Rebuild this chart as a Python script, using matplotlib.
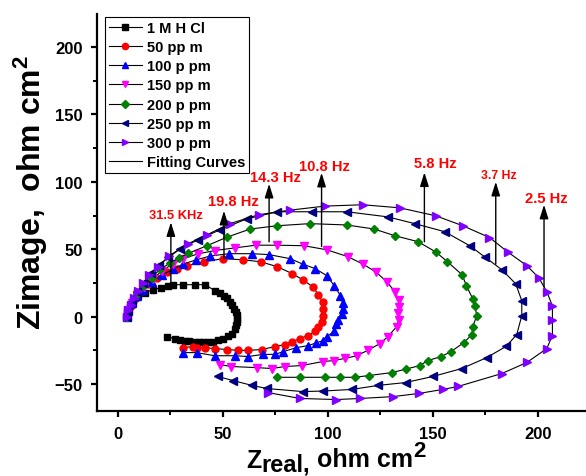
import matplotlib
matplotlib.use("Agg")
import matplotlib.pyplot as plt
from matplotlib.ticker import MultipleLocator
from matplotlib.lines import Line2D

plt.rcParams['font.family'] = ['Liberation Sans', 'DejaVu Sans']
plt.rcParams['font.weight'] = 'bold'
plt.rcParams['mathtext.fontset'] = 'custom'
plt.rcParams['mathtext.rm'] = 'Liberation Sans:bold'
plt.rcParams['mathtext.bf'] = 'Liberation Sans:bold'
plt.rcParams['mathtext.it'] = 'Liberation Sans:bold'

# ---------------- data ----------------
labels = ['1 M H Cl', '50 pp m', '100 p pm', '150 pp m', '200 p pm', '250 pp m', '300 p pm']

hcl_x = [4.0, 4.5, 5.5, 7.0, 9.5, 12.9, 16.7, 20.5, 23.8, 26.2, 31.0, 36.7, 41.4, 46.2, 48.5, 50.5, 52.0,
         53.3, 54.5, 55.5, 56.2, 56.7, 56.9, 56.7, 56.2, 55.7, 54.3, 52.5, 50.0, 47.5, 45.2, 42.8, 40.5,
         38.5, 36.7, 34.0, 31.9, 29.5, 27.1, 23.3]
hcl_y = [0.0, 4.0, 8.0, 12.0, 15.0, 17.8, 20.0, 21.5, 23.0, 23.7, 23.7, 23.7, 23.7, 19.3, 17.5, 15.6, 13.5,
         11.1, 8.5, 6.0, 3.5, 1.0, -1.5, -3.7, -6.3, -8.9, -12.6, -14.5, -16.3, -17.6, -18.5, -18.5, -18.5,
         -18.5, -18.5, -18.2, -17.8, -17.0, -16.3, -14.8]

p50_x = [4.3, 5.0, 6.5, 8.5, 11.0, 14.5, 18.5, 23.5, 28.0, 33.0, 41.0, 50.0, 59.5, 68.0, 76.0, 83.0, 88.0,
         93.0, 95.4, 97.5, 97.8, 97.6, 97.0, 95.4, 94.0, 90.5, 86.7, 83.0, 79.5, 74.8, 68.5, 62.0, 57.0,
         52.0, 46.2, 41.4, 37.6, 35.6, 31.0]
p50_y = [0.0, 4.0, 9.0, 14.0, 19.0, 24.0, 28.5, 33.0, 35.6, 37.8, 40.7, 43.0, 42.2, 40.7, 37.0, 31.9, 27.4,
         22.0, 16.3, 11.0, 5.9, 0.7, -4.0, -8.0, -11.0, -14.0, -16.3, -18.5, -20.7, -22.2, -24.4, -25.0, -25.0,
         -24.4, -23.7, -23.0, -23.0, -22.2, -23.0]

p100_x = [4.3, 5.0, 6.5, 9.0, 12.0, 16.0, 21.0, 26.0, 31.0, 37.0, 44.0, 53.0, 64.0, 72.0, 82.0, 88.0, 94.0,
          99.5, 103.0, 106.0, 107.0, 107.0, 106.5, 105.0, 104.0, 103.0, 99.5, 97.6, 94.5, 90.5, 85.0, 78.7,
          74.8, 69.0, 62.0, 55.7, 46.0, 37.6, 31.0]
p100_y = [0.0, 4.0, 10.0, 15.0, 20.0, 26.0, 31.0, 35.0, 39.0, 42.0, 45.0, 46.7, 46.7, 46.0, 43.0, 39.0, 35.6,
          30.4, 23.0, 15.6, 10.4, 5.9, 2.2, -2.2, -5.2, -11.0, -14.8, -17.8, -19.5, -21.5, -23.0, -26.0,
          -28.0, -28.0, -29.6, -29.0, -29.0, -26.7, -26.7]

p150_x = [4.3, 5.0, 6.5, 9.0, 12.5, 16.5, 21.0, 26.0, 31.0, 38.0, 46.0, 55.7, 65.7, 76.0, 88.6, 99.5, 109.5,
          116.7, 123.0, 128.0, 132.0, 133.8, 133.8, 133.5, 133.8, 132.8, 128.6, 124.8, 119.0, 113.8, 108.0,
          103.0, 97.6, 87.6, 79.5, 73.3, 66.0, 54.0, 48.6]
p150_y = [0.0, 5.0, 10.0, 16.0, 22.0, 28.0, 34.0, 39.0, 43.0, 46.5, 49.0, 51.0, 53.0, 53.0, 52.6, 49.6, 44.5,
          39.0, 33.0, 26.0, 18.5, 12.0, 7.4, 3.0, -2.2, -7.4, -14.8, -20.0, -25.0, -29.0, -31.0,
          -32.6, -33.3, -36.3, -37.0, -38.5, -37.8, -37.0, -35.6]

p200_x = [4.3, 5.0, 6.5, 9.0, 12.0, 16.0, 20.0, 25.0, 29.0, 33.5, 42.4, 52.0, 63.0, 75.7, 91.4, 109.0, 122.0,
          132.0, 143.0, 151.4, 157.0, 164.0, 166.0, 169.0, 170.0, 171.0, 169.0, 168.6, 164.8, 158.6, 154.0,
          147.6, 143.8, 137.0, 130.5, 119.5, 112.9, 105.7, 98.6, 86.7, 75.7]
p200_y = [0.0, 5.0, 11.0, 17.0, 23.0, 29.0, 35.0, 40.0, 43.5, 47.0, 52.6, 59.0, 65.0, 67.4, 69.0, 68.0, 65.0,
          60.0, 55.6, 48.0, 40.7, 31.0, 23.0, 13.3, 8.0, 0.7, -7.4, -13.3, -19.3, -26.0, -29.6,
          -32.6, -36.3, -39.0, -41.5, -43.7, -45.0, -45.0, -45.0, -45.0, -45.0]

p250_x = [4.3, 5.0, 6.5, 9.0, 12.0, 15.5, 19.5, 24.0, 29.5, 38.0, 48.6, 61.4, 76.0, 92.4, 109.0, 128.6, 141.4,
          155.7, 167.6, 175.0, 182.9, 189.5, 192.4, 192.4, 190.0, 185.0, 175.7, 163.8, 150.0, 137.0, 124.0,
          111.4, 97.6, 88.0, 70.9, 63.8, 54.8, 47.6]
p250_y = [0.0, 5.0, 11.0, 18.0, 25.0, 32.0, 38.0, 44.0, 50.0, 57.0, 64.4, 72.6, 77.8, 77.8, 77.8, 74.0, 69.0,
          63.0, 52.6, 44.0, 34.8, 24.4, 11.8, 0.7, -13.3, -22.0, -30.4, -38.5, -44.4, -48.9, -51.0,
          -54.0, -55.2, -55.6, -53.3, -51.0, -47.4, -44.4]

p300_x = [4.3, 5.0, 6.0, 7.5, 9.5, 12.0, 15.0, 19.0, 24.3, 33.3, 42.4, 53.3, 67.0, 82.0, 98.6, 116.7, 134.3,
          151.4, 164.3, 177.0, 185.7, 194.8, 200.5, 204.3, 207.0, 207.0, 207.0, 204.3, 194.8, 182.9, 162.0,
          154.8, 143.3, 131.2, 115.5, 104.0, 86.7, 71.4]
p300_y = [0.0, 5.0, 9.0, 14.0, 19.0, 25.0, 31.0, 37.0, 45.0, 54.0, 60.7, 69.0, 75.6, 79.0, 82.0, 83.0, 80.7,
          74.8, 67.4, 58.7, 48.0, 37.8, 28.9, 18.5, 8.0, -2.2, -14.0, -23.7, -34.0, -42.2, -51.8,
          -54.0, -57.0, -59.3, -60.7, -61.5, -60.7, -56.3]

series_x = [hcl_x, p50_x, p100_x, p150_x, p200_x, p250_x, p300_x]
series_y = [hcl_y, p50_y, p100_y, p150_y, p200_y, p250_y, p300_y]

# frequency annotations
freq_labels = ['31.5 KHz', '19.8 Hz', '14.3 Hz', '10.8 Hz', '5.8 Hz', '3.7 Hz', '2.5 Hz']
arrow_x = [25.2, 50.5, 72.0, 97.0, 146.0, 180.0, 203.0]
arrow_base = [23.5, 43.0, 55.5, 52.0, 55.5, 39.0, 22.0]
arrow_tip = [70.0, 78.5, 98.5, 106.7, 107.0, 100.0, 83.0]
text_x = [27.6, 54.8, 74.8, 98.6, 151.0, 181.5, 204.0]
text_y = [75.5, 86.0, 103.7, 111.8, 114.0, 105.0, 88.0]
text_size = [9.3, 10.6, 10.6, 10.6, 10.6, 8.8, 10.6]

# ---------------- style ----------------
colors = ['black', '#ff0000', '#0000ff', '#ff00ff', '#008000', '#000080', '#8000ff']
markers = ['s', 'o', '^', 'v', 'D', '<', '>']
msizes = [4.5, 5.0, 5.5, 5.5, 4.3, 5.5, 5.5]

W, H = 586, 477
fig = plt.figure(figsize=(W / 100, H / 100), dpi=100)
ax = fig.add_axes([97 / W, 1 - 412 / H, 489 / W, 397 / H])

for xs, ys, c, m, ms, lab in zip(series_x, series_y, colors, markers, msizes, labels):
    ax.plot(xs, ys, '-', color='black', lw=0.8, marker=m, ms=ms, mfc=c, mec=c, label=lab, zorder=3)

for lab, ax_x, b, t, tx, ty, ts in zip(freq_labels, arrow_x, arrow_base, arrow_tip, text_x, text_y, text_size):
    ax.annotate('', xy=(ax_x, t), xytext=(ax_x, b),
                arrowprops=dict(arrowstyle='-|>,head_width=0.22,head_length=0.7', color='black',
                                lw=1.0, shrinkA=0, shrinkB=0, mutation_scale=12), zorder=4)
    ax.text(tx, ty, lab, color='#ff0000', fontsize=ts, fontweight='bold', ha='center', va='center', zorder=5)

ax.set_xlim(-10, 223)
ax.set_ylim(-70, 224.5)

ax.xaxis.set_major_locator(MultipleLocator(50))
ax.xaxis.set_minor_locator(MultipleLocator(25))
ax.yaxis.set_major_locator(MultipleLocator(50))
ax.yaxis.set_minor_locator(MultipleLocator(25))

for s in ['top', 'right']:
    ax.spines[s].set_visible(False)
for s in ['left', 'bottom']:
    ax.spines[s].set_linewidth(1.6)

ax.tick_params(which='major', direction='out', length=4.5, width=1.6, labelsize=12, pad=6)
ax.tick_params(which='minor', direction='out', length=3, width=1.4)
for lbl in ax.get_xticklabels() + ax.get_yticklabels():
    lbl.set_fontweight('bold')

# y axis label (rotated), baseline at x=41px, starting at y=330px
fig.text(41 / W, 1 - 330 / H, r'Zimage,  ohm cm$^{\mathrm{2}}$', fontsize=23, fontweight='bold',
         rotation=90, rotation_mode='anchor', ha='left', va='baseline')

# x axis label built from pieces (Z, lowered 'real,', ' ohm cm', raised '2')
fig.canvas.draw()
renderer = fig.canvas.get_renderer()
pieces = [('Z', 18, 468), ('real,', 17, 472), (' ohm cm', 18, 467), ('2', 16, 457)]
xpos = 246.0
for txt, fs, base in pieces:
    t = fig.text(xpos / W, 1 - base / H, txt, fontsize=fs, fontweight='bold', ha='left', va='baseline')
    bb = t.get_window_extent(renderer=renderer)
    xpos += bb.width

handles, labs = ax.get_legend_handles_labels()
handles.append(Line2D([], [], color='black', lw=0.8))
labs.append('Fitting Curves')
leg = ax.legend(handles, labs, loc='upper left', bbox_to_anchor=(0.0164, 0.9924), borderaxespad=0,
                prop={'weight': 'bold', 'size': 10.5}, frameon=True, fancybox=False, edgecolor='black',
                framealpha=1, handlelength=2.3, handletextpad=0.35, labelspacing=0.36, borderpad=0.25,
                markerscale=0.9)
leg.get_frame().set_linewidth(0.8)

fig.savefig('out.png', dpi=100)
